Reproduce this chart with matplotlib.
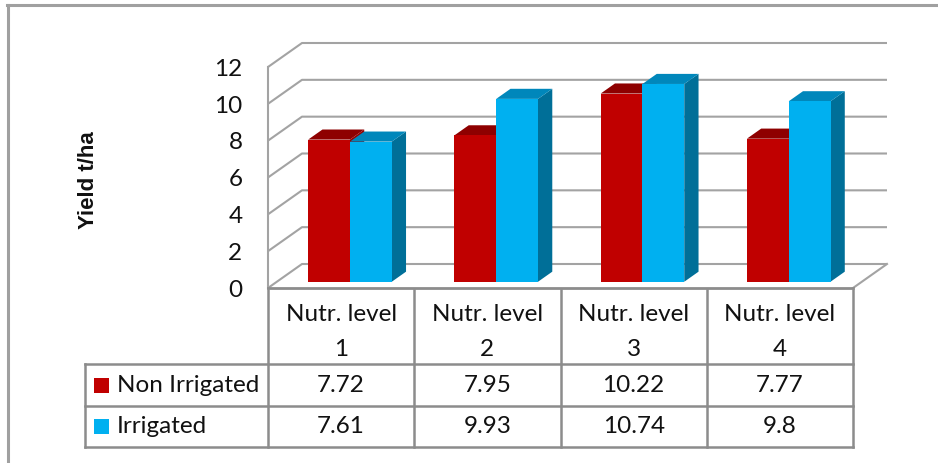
import textwrap
import matplotlib
matplotlib.use('Agg')
import matplotlib.pyplot as plt
from matplotlib.patches import Polygon, Rectangle

categories = ["Nutr. level 1", "Nutr. level 2", "Nutr. level 3", "Nutr. level 4"]
series_names = ["Non Irrigated", "Irrigated"]
non_irrigated = [7.72, 7.95, 10.22, 7.77]
irrigated = [7.61, 9.93, 10.74, 9.8]
y_ticks = [0, 2, 4, 6, 8, 10, 12]
y_label = "Yield t/ha"

# front, top and side face colours for each series
faces = [("#C00000", "#8E0000", "#960000"),
         ("#00B0F0", "#0087BB", "#006F98")]
grid_col = "#A3A3A3"
line_col = "#8C8C8C"
font = "Lato"
fs = 17.5

W, H = 938, 463
fig = plt.figure(figsize=(W / 100, H / 100), dpi=100)

# pixel-unit layer for the outer frame and the data table
pix = fig.add_axes([0, 0, 1, 1])
pix.set_xlim(0, W)
pix.set_ylim(H, 0)
pix.axis('off')

# front plane of the 3d column plot
x_left, x_right, y_base, y_top = 268, 853, 288, 67
ax = fig.add_axes([x_left / W, 1 - y_base / H, (x_right - x_left) / W, (y_base - y_top) / H])
n = len(categories)
ax.set_xlim(0, n)
ax.set_ylim(0, y_ticks[-1])
ax.axis('off')

# depth of the plot box, in data units
DX = 34 / ((x_right - x_left) / n)
DY = 24 / ((y_base - y_top) / y_ticks[-1])

# walls: left side + back gridlines
for v in y_ticks:
    ax.plot([0, DX, n + DX], [v, v + DY, v + DY], color=grid_col, lw=1.5,
            clip_on=False, zorder=1, solid_capstyle='butt')
ax.plot([0, 0], [0, y_ticks[-1]], color=grid_col, lw=1.5, clip_on=False, zorder=1)
ax.plot([n, n + DX], [0, DY], color=grid_col, lw=1.5, clip_on=False, zorder=1)

for v in y_ticks:
    ax.text(-0.175, v - 0.12, str(v), ha='right', va='center', family=font, size=fs,
            color='#111111')

# bars: gap width 150%, sitting between depth d0 and d1
bw = 1 / 3.5
d0, d1 = 0.26, 0.68
for s, vals in enumerate([non_irrigated, irrigated]):
    front, top, side = faces[s]
    for i, v in enumerate(vals):
        x0 = i + 0.75 * bw + s * bw + d0 * DX
        x1 = x0 + bw
        ox, oy = (d1 - d0) * DX, (d1 - d0) * DY
        y0 = d0 * DY
        ax.add_patch(Polygon([(x1, y0), (x1 + ox, y0 + oy), (x1 + ox, y0 + v + oy), (x1, y0 + v)],
                             closed=True, fc=side, ec='none', clip_on=False, zorder=3 + s))
        ax.add_patch(Polygon([(x0, y0 + v), (x1, y0 + v), (x1 + ox, y0 + v + oy), (x0 + ox, y0 + v + oy)],
                             closed=True, fc=top, ec='none', clip_on=False, zorder=3 + s))
        ax.add_patch(Rectangle((x0, y0), bw, v, fc=front, ec='none', clip_on=False, zorder=3 + s))

# floor front edge
ax.plot([0, n], [0, 0], color=line_col, lw=2, clip_on=False, zorder=6)

# outer frame (top and left edges)
pix.plot([7, W], [5, 5], color='#A0A0A0', lw=2.2)
pix.plot([8, 8], [5, H], color='#A0A0A0', lw=2.2)

# axis title
pix.text(88, 180, y_label, rotation=90, ha='center', va='center',
         family='Liberation Sans', fontweight='bold', size=16, color='#111111')

# data table below the plot
col_x = [x_left + i * (x_right - x_left) / n for i in range(n + 1)]
tab_left = 85
row_y = [290, 364, 406, 447]
for x in col_x:
    pix.plot([x, x], [row_y[0], row_y[-1]], color=line_col, lw=1.8)
pix.plot([tab_left, tab_left], [row_y[1], row_y[-1]], color=line_col, lw=1.8)
for y in row_y[1:]:
    pix.plot([tab_left, col_x[-1]], [y, y], color=line_col, lw=1.8)

for i, c in enumerate(categories):
    cx = (col_x[i] + col_x[i + 1]) / 2
    pix.text(cx, (row_y[0] + row_y[1]) / 2 + 5, textwrap.fill(c, 11), ha='center', va='center',
             family=font, size=fs, linespacing=1.85, color='#111111')

for r, (name, vals) in enumerate(zip(series_names, [non_irrigated, irrigated])):
    cy = (row_y[r + 1] + row_y[r + 2]) / 2
    pix.add_patch(Rectangle((94, cy - 7.5), 15, 15, fc=faces[r][0], ec='none'))
    pix.text(117, cy, name, ha='left', va='center', family=font, size=fs, color='#111111')
    for i, v in enumerate(vals):
        cx = (col_x[i] + col_x[i + 1]) / 2
        pix.text(cx, cy, f"{v:g}", ha='center', va='center', family=font, size=fs,
                 color='#111111')

fig.savefig("out.png", dpi=100)
